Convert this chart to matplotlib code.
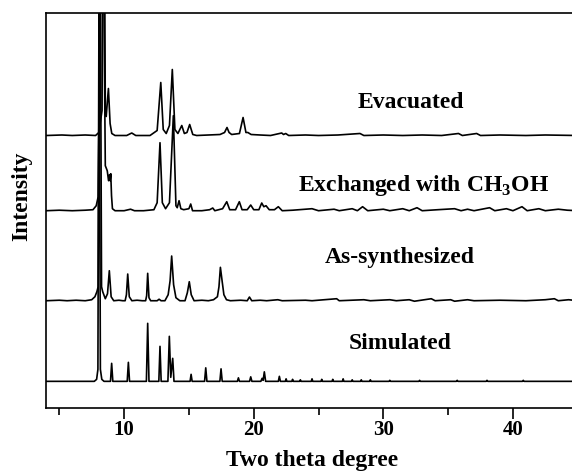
import matplotlib
matplotlib.use("Agg")
import matplotlib.pyplot as plt

plt.rcParams['font.family'] = ['Liberation Serif', 'DejaVu Serif']
plt.rcParams['font.weight'] = 'bold'
plt.rcParams['mathtext.fontset'] = 'custom'
plt.rcParams['mathtext.rm'] = 'Liberation Serif:bold'
plt.rcParams['mathtext.bf'] = 'Liberation Serif:bold'

# (two theta, height above the trace baseline)
simulated = [(4.0, 0), (7.70, 0), (7.88, 2), (7.98, 12), (8.07, 420), (8.17, 12), (8.28, 2), (8.45, 0),
    (8.95, 0), (9.04, 18), (9.13, 0),
    (10.24, 0), (10.33, 19), (10.42, 0),
    (11.72, 0), (11.82, 58), (11.92, 0),
    (12.68, 0), (12.77, 35), (12.86, 0),
    (13.38, 0), (13.49, 45), (13.60, 4), (13.75, 23), (13.85, 0),
    (15.09, 0), (15.17, 7), (15.25, 0),
    (16.21, 0), (16.30, 13.5), (16.39, 0),
    (17.39, 0), (17.48, 12.5), (17.57, 0),
    (18.74, 0), (18.82, 3.5), (18.90, 0),
    (19.68, 0), (19.77, 4.5), (19.86, 0),
    (20.55, 0), (20.65, 3), (20.73, 1), (20.82, 9.5), (20.92, 0),
    (21.90, 0), (21.98, 5), (22.06, 0),
    (22.44, 0), (22.50, 2.5), (22.56, 0),
    (22.94, 0), (23.00, 2), (23.06, 0),
    (23.54, 0), (23.60, 1.5), (23.66, 0),
    (24.44, 0), (24.50, 2.5), (24.56, 0),
    (25.19, 0), (25.25, 2), (25.31, 0),
    (26.04, 0), (26.10, 2), (26.16, 0),
    (26.84, 0), (26.90, 2.5), (26.96, 0),
    (27.54, 0), (27.60, 1.5), (27.66, 0),
    (28.24, 0), (28.30, 1.5), (28.36, 0),
    (28.94, 0), (29.00, 1.5), (29.06, 0),
    (30.44, 0), (30.50, 1), (30.56, 0),
    (32.74, 0), (32.80, 1), (32.86, 0),
    (35.64, 0), (35.70, 1), (35.76, 0),
    (37.94, 0), (38.00, 1), (38.06, 0),
    (40.74, 0), (40.80, 1), (40.86, 0),
    (45.0, 0)]

as_synthesized = [(4.0, 0), (5.0, 0.5), (5.6, 0), (6.3, 0.5), (7.0, 0), (7.5, 1), (7.75, 4), (7.9, 9),
    (8.0, 14), (8.14, 420), (8.26, 14), (8.35, 9), (8.55, 2), (8.72, 7), (8.86, 30), (9.0, 4), (9.2, 0),
    (9.6, 0.5), (9.9, 0),
    (10.08, 0), (10.18, 6), (10.28, 26.7), (10.40, 4), (10.6, 0),
    (11.0, 0.5), (11.4, 0),
    (11.66, 0), (11.74, 5), (11.82, 27.4), (11.92, 3), (12.05, 0),
    (12.55, 0), (12.70, 1.5), (12.85, 0),
    (13.15, 0), (13.40, 6), (13.55, 20), (13.67, 44.7), (13.82, 16), (14.0, 3), (14.3, 0),
    (14.70, 0), (14.88, 8), (15.03, 19), (15.18, 6), (15.4, 0),
    (16.0, 0.5), (16.5, 0), (16.9, 1), (17.2, 4), (17.32, 14), (17.43, 33.4), (17.56, 20), (17.7, 6),
    (17.9, 1), (18.2, 0),
    (19.0, 0.5), (19.5, 0), (19.67, 3.7), (19.85, 0),
    (20.5, 0.5), (21.0, 0), (21.86, 1), (22.2, 0), (24.0, 0.5), (24.5, 0), (26.4, 2), (26.6, 0),
    (28.5, 1), (29.0, 0), (30.5, 1), (31.0, 0), (32.0, 1), (32.4, -0.5), (33.7, 2), (34.0, 0),
    (35.2, 1), (35.5, -0.5), (36.5, 1), (37.0, 0), (39.0, 0.5), (41.0, 0), (42.5, 1), (43.2, 2),
    (43.5, 0), (44.3, 1), (45.0, 0)]

exchanged = [(4.0, 0), (5.0, 0.5), (6.0, 0), (7.0, 0.5), (7.6, 1), (7.85, 5), (8.0, 14), (8.3, 420),
    (8.55, 45), (8.7, 40), (8.80, 30), (8.88, 36), (8.92, 30), (8.97, 37), (9.03, 15), (9.1, 2), (9.3, 0),
    (10.0, 0), (10.5, 1.5), (10.8, 0),
    (11.5, 0), (12.3, 1), (12.55, 8), (12.77, 68), (12.95, 8), (13.2, 2), (13.5, 8), (13.8, 95),
    (14.0, 5), (14.1, 3), (14.24, 10), (14.38, 2), (14.6, 1), (15.0, 2), (15.14, 6.7), (15.28, 0),
    (16.0, 0), (16.6, 1), (16.84, 2.7), (17.0, 0), (17.6, 2), (17.92, 9), (18.15, 1), (18.6, 1),
    (18.89, 9), (19.1, 1), (19.5, 1), (19.77, 5.7), (20.0, 1), (20.4, 1), (20.62, 7.7), (20.78, 4),
    (20.95, 5), (21.2, 1), (21.6, 1), (21.9, 4), (22.2, 0),
    (23.0, 0.5), (24.5, 2), (25.0, 0), (26.2, 1.5), (26.6, 0), (27.6, 2), (28.0, 0), (28.4, 4),
    (28.8, 0), (30.0, 1.5), (30.5, 0), (31.5, 2), (32.0, 0), (32.6, 3), (33.0, 0), (34.2, 1),
    (35.5, 2), (36.0, 0), (36.5, 1.5), (37.0, 0), (38.2, 3), (38.6, 0), (39.5, 2), (40.0, 0),
    (40.7, 4), (41.1, 0), (42.0, 2), (42.5, 0), (43.5, 1.5), (44.2, 0.5), (45.0, 0)]

evacuated = [(4.0, 0), (5.2, 0.5), (6.0, 0), (7.0, 0.5), (7.8, 0), (8.05, 3), (8.15, 12), (8.3, 25),
    (8.42, 420), (8.55, 25), (8.62, 19), (8.79, 47), (8.92, 12), (9.05, 2), (9.3, 0),
    (10.2, 0), (10.59, 2.5), (10.9, 0),
    (12.0, 0), (12.55, 5), (12.83, 53), (13.02, 6), (13.25, 2), (13.5, 10), (13.72, 66), (13.92, 6),
    (14.15, 2), (14.45, 10), (14.65, 2), (14.85, 3), (15.06, 11), (15.3, 1), (15.6, 0),
    (16.5, 0.5), (17.4, 1), (17.75, 3), (17.94, 8), (18.1, 3), (18.3, 1), (18.9, 2), (19.18, 18),
    (19.4, 3), (19.55, 3), (19.8, 1), (20.5, 0.5), (21.3, 0), (22.16, 2.5), (22.3, 1), (22.47, 2),
    (22.7, 0), (24.0, 0.5), (25.0, 0), (26.5, 0.5), (28.2, 2), (28.5, 0), (30.0, 0.5), (31.5, 0),
    (33.0, 0.5), (34.5, 0), (35.8, 2), (36.1, 0), (37.2, 2), (37.5, 0), (39.0, 0.5), (41.0, 0),
    (42.5, 0.5), (45.0, 0)]

names = ['Simulated', 'As-synthesized', r'Exchanged with CH$_{3}$OH', 'Evacuated']
traces = [simulated, as_synthesized, exchanged, evacuated]
offsets = [26.7, 107.3, 197.3, 272.5]
label_x = [31.3, 31.3, 33.1, 32.1]
label_y = [59, 145, 217, 300]

fig = plt.figure(figsize=(5.72, 4.72), dpi=100)
ax = fig.add_axes([0.081, 0.1355, 0.929, 0.837])

for i in range(len(traces)):
    xs = [p[0] for p in traces[i]]
    ys = [p[1] + offsets[i] for p in traces[i]]
    ax.plot(xs, ys, color='black', lw=1.2)
    ax.text(label_x[i], label_y[i], names[i], ha='center', va='baseline', fontsize=17, fontweight='bold')

ax.set_xlim(4, 45)
ax.set_ylim(0, 395)
ax.set_yticks([])
ax.set_xticks([10, 20, 30, 40])
ax.set_xticks([5, 15, 25, 35, 45], minor=True)
ax.tick_params(axis='x', which='major', direction='out', length=8, width=1.2, labelsize=15, pad=0.5)
ax.tick_params(axis='x', which='minor', direction='out', length=5, width=1.2)
for s in ax.spines.values():
    s.set_linewidth(1.2)

ax.set_xlabel('Two theta degree', fontsize=17, fontweight='bold', labelpad=7)
ax.set_ylabel('Intensity', fontsize=17, fontweight='bold')
ax.yaxis.set_label_coords(-0.027, 0.535)

fig.savefig('out.png', dpi=100)
